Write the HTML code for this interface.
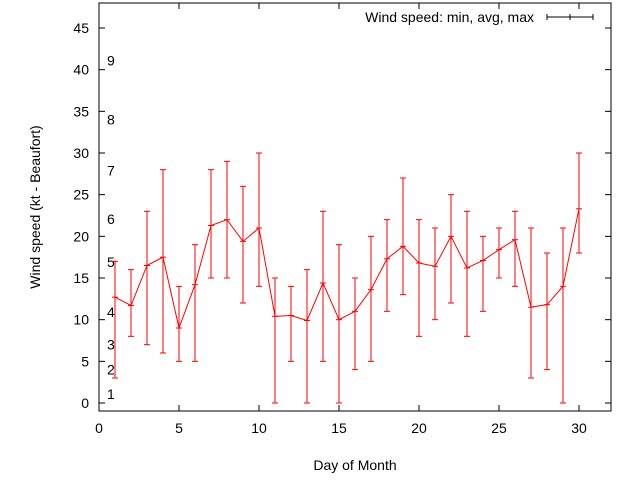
<!DOCTYPE html>
<html><head><meta charset="utf-8"><style>
body{margin:0;background:#fff}
svg text{font-family:"Liberation Sans",sans-serif;font-size:14px;fill:#000}
</style></head><body>
<svg id="c" width="640" height="480"></svg>
<script>
const days=[1,2,3,4,5,6,7,8,9,10,11,12,13,14,15,16,17,18,19,20,21,22,23,24,25,26,27,28,29,30];
const avgVals=[12.7,11.7,16.5,17.5,9,14.2,21.3,22,19.4,21,10.4,10.5,9.9,14.4,10,11,13.6,17.3,18.8,16.8,16.4,20,16.2,17.1,18.4,19.6,11.5,11.8,14,23.3];
const minVals=[3,8,7,6,5,5,15,15,12,14,0,5,0,5,0,4,5,11,13,8,10,12,8,11,15,14,3,4,0,18];
const maxVals=[17,16,23,28,14,19,28,29,26,30,15,14,16,23,19,15,20,22,27,22,21,25,23,20,21,23,21,18,21,30];
const xTicks=[0,5,10,15,20,25,30];
const yTicks=[0,5,10,15,20,25,30,35,40,45];
const bftLabels=["1","2","3","4","5","6","7","8","9"];
const bftY=[1.1,4,7,10.9,16.9,22.1,27.9,34,41.1];
const L=99,R=611,T=3,B=411;
const X=v=>L+v*16, Y=v=>403-v*375/45;
const s=document.getElementById('c');const NS='http://www.w3.org/2000/svg';
function mk(t,a,p){const e=document.createElementNS(NS,t);for(const k in a)e.setAttribute(k,a[k]);(p||s).appendChild(e);return e;}
let e=mk('rect',{x:L,y:T,width:R-L,height:B-T,fill:'none',stroke:'#000','stroke-width':1});


xTicks.forEach(v=>{mk('line',{x1:X(v),x2:X(v),y1:B,y2:B-6,stroke:'#000'});mk('line',{x1:X(v),x2:X(v),y1:T,y2:T+6,stroke:'#000'});
 const t=mk('text',{x:X(v),y:B+22,'text-anchor':'middle'});t.textContent=v;
 
 });
yTicks.forEach(v=>{mk('line',{x1:L,x2:L+6,y1:Y(v),y2:Y(v),stroke:'#000'});mk('line',{x1:R,x2:R-6,y1:Y(v),y2:Y(v),stroke:'#000'});
 const t=mk('text',{x:L-10,y:Y(v)+5,'text-anchor':'end'});t.textContent=v;
 
 });
bftLabels.forEach((l,i)=>{const t=mk('text',{x:107,y:Y(bftY[i])+5});t.textContent=l;
 
 });
let t=mk('text',{x:355,y:470,'text-anchor':'middle'});t.textContent='Day of Month';


t=mk('text',{x:0,y:0,'text-anchor':'middle',transform:'translate(40,207) rotate(-90)'});t.textContent='Wind speed (kt - Beaufort)';


t=mk('text',{x:534,y:22,'text-anchor':'end'});t.textContent='Wind speed: min, avg, max';


const lg=mk('g',{stroke:'#000'});


mk('line',{x1:547,x2:593,y1:17,y2:17},lg);mk('line',{x1:547,x2:547,y1:14,y2:20},lg);mk('line',{x1:593,x2:593,y1:14,y2:20},lg);mk('line',{x1:570,x2:570,y1:14,y2:20},lg);
days.forEach((d,i)=>{const g=mk('g',{stroke:'#f00','stroke-width':1});
 
 
 const x=X(d);
 mk('line',{x1:x,x2:x,y1:Y(minVals[i]),y2:Y(maxVals[i])},g);
 mk('line',{x1:x-3,x2:x+3,y1:Y(minVals[i]),y2:Y(minVals[i])},g);
 mk('line',{x1:x-3,x2:x+3,y1:Y(maxVals[i]),y2:Y(maxVals[i])},g);
 mk('line',{x1:x-3,x2:x+3,y1:Y(avgVals[i]),y2:Y(avgVals[i])},g);});
const p=mk('polyline',{points:days.map((d,i)=>X(d)+','+Y(avgVals[i])).join(' '),fill:'none',stroke:'#f00','stroke-width':1});


</script>
</body></html>
